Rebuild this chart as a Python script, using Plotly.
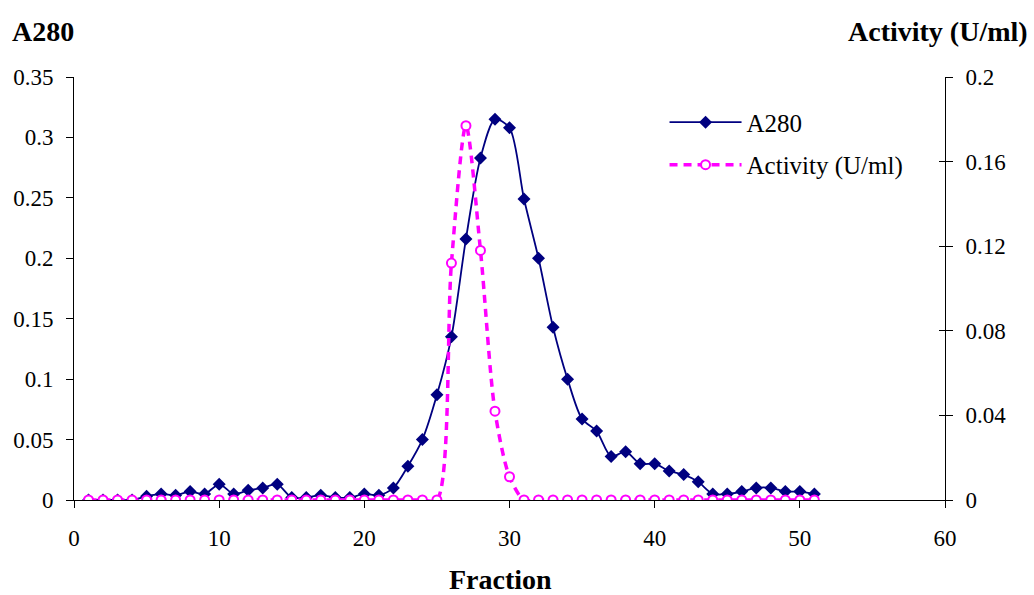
import plotly.graph_objects as go

fractions = list(range(1, 52))
a280 = [0.0, 0.0, 0.0, 0.0, 0.003, 0.005, 0.004, 0.007, 0.005, 0.013,
        0.005, 0.008, 0.010, 0.013, 0.002, 0.002, 0.004, 0.002, 0.002, 0.005,
        0.004, 0.010, 0.028, 0.050, 0.087, 0.135, 0.216, 0.283, 0.315, 0.308,
        0.249, 0.200, 0.143, 0.100, 0.067, 0.057, 0.036, 0.040, 0.030, 0.030,
        0.024, 0.021, 0.015, 0.005, 0.005, 0.007, 0.010, 0.010, 0.007, 0.007,
        0.005]
activity = [0.0] * 25 + [0.112, 0.177, 0.118, 0.042, 0.011] + [0.0] * 21

x_ticks = [0, 10, 20, 30, 40, 50, 60]
y_ticks = [0, 0.05, 0.1, 0.15, 0.2, 0.25, 0.3, 0.35]
y_tick_labels = ["0", "0.05", "0.1", "0.15", "0.2", "0.25", "0.3", "0.35"]
y2_ticks = [0, 0.04, 0.08, 0.12, 0.16, 0.2]
y2_tick_labels = ["0", "0.04", "0.08", "0.12", "0.16", "0.2"]

NAVY = "#000080"
MAG = "#FF00FF"
FONT = "Liberation Serif"

fig = go.Figure()
fig.add_trace(go.Scatter(
    x=fractions, y=a280, name="A280", mode="lines+markers",
    line=dict(color=NAVY, width=1.8, shape="spline", smoothing=0.8),
    marker=dict(symbol="diamond", size=10, color=NAVY),
    legendgroup="a", yaxis="y"))
fig.add_trace(go.Scatter(
    x=fractions, y=activity, name="Activity (U/ml)", mode="lines+markers",
    line=dict(color=MAG, width=3.5, dash="8px,6px", shape="spline", smoothing=0.8),
    marker=dict(symbol="circle", size=9, color="white", line=dict(color=MAG, width=2)),
    legendgroup="b", yaxis="y2"))

axis_common = dict(showgrid=False, zeroline=False, showline=True, linecolor="black",
                   linewidth=1, ticks="outside", ticklen=7, tickcolor="black",
                   tickfont=dict(family=FONT, size=23, color="black"))

fig.update_layout(
    width=1034, height=595,
    margin=dict(l=74, r=89, t=77, b=95),
    paper_bgcolor="white", plot_bgcolor="white",
    font=dict(family=FONT, color="black"),
    xaxis=dict(range=[0, 60], tickvals=x_ticks, ticklabelstandoff=10, **axis_common),
    yaxis=dict(range=[0, 0.35], tickvals=y_ticks, ticktext=y_tick_labels,
               ticklabelstandoff=8, **axis_common),
    yaxis2=dict(range=[0, 0.2], tickvals=y2_ticks, ticktext=y2_tick_labels,
                overlaying="y", side="right", ticklabelstandoff=8, **axis_common),
    yaxis3=dict(range=[0, 0.2], tickvals=y2_ticks, overlaying="y", side="right",
                showgrid=False, zeroline=False, showline=False, showticklabels=False,
                ticks="inside", ticklen=6, tickcolor="black"),
    legend=dict(x=0.678, y=0.947, xanchor="left", yanchor="top",
                font=dict(family=FONT, size=25, color="black"),
                bgcolor="rgba(0,0,0,0)", tracegroupgap=7, itemwidth=72),
    showlegend=True,
    annotations=[
        dict(text="<b>A280</b>", x=-0.0735, y=1.108, xref="paper", yref="paper",
             xanchor="left", yanchor="middle", showarrow=False,
             font=dict(family=FONT, size=28, color="black")),
        dict(text="<b>Activity (U/ml)</b>", x=1.0976, y=1.108, xref="paper", yref="paper",
             xanchor="right", yanchor="middle", showarrow=False,
             font=dict(family=FONT, size=28, color="black")),
        dict(text="<b>Fraction</b>", x=0.49, y=-0.189, xref="paper", yref="paper",
             xanchor="center", yanchor="middle", showarrow=False,
             font=dict(family=FONT, size=28, color="black")),
    ],
)
# invisible helper trace so the inside ticks of yaxis3 are drawn
fig.add_trace(go.Scatter(x=[None], y=[None], yaxis="y3", showlegend=False, hoverinfo="skip"))

fig.write_html("out.html")
